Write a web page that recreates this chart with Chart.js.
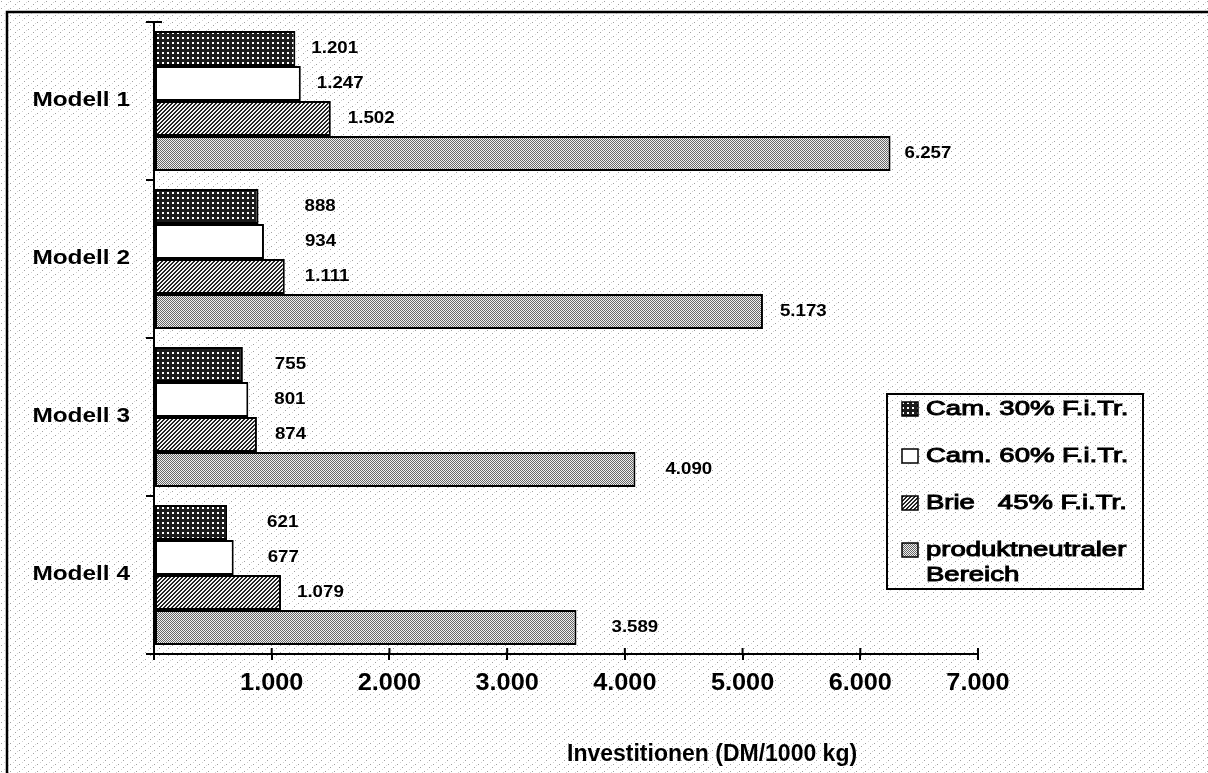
<!DOCTYPE html>
<html>
<head>
<meta charset="utf-8">
<script src="https://cdn.jsdelivr.net/npm/chart.js@4"></script>
<style>
html,body{margin:0;padding:0;background:#f8f8f8;}
#wrap{width:1208px;height:773px;position:relative;}
</style>
</head>
<body>
<div id="wrap"><canvas id="c" width="1208" height="773"></canvas></div>
<script>
// ---- data ----
const categories = ['Modell 1', 'Modell 2', 'Modell 3', 'Modell 4'];
const seriesNames = ['Cam. 30% F.i.Tr.', 'Cam. 60% F.i.Tr.', 'Brie   45% F.i.Tr.', 'produktneutraler\nBereich'];
const cam30 = [1201, 888, 755, 621];
const cam60 = [1247, 934, 801, 677];
const brie = [1502, 1111, 874, 1079];
const neutral = [6257, 5173, 4090, 3589];
const xMin = 0, xMax = 7000, xStep = 1000;
const axisTitle = 'Investitionen (DM/1000 kg)';

// ---- style ----
const FONT = '"Liberation Sans", Arial, sans-serif';
const SX = 1.22;                 // horizontal stretch of the scanned lettering
// gap (px) between each bar end and its value label, per model, per series (as placed in the original)
const labelGaps = [
  [16, 16, 17, 14],
  [46, 41, 20, 17],
  [32, 26, 18, 30],
  [40, 34, 16, 35]
];

function fmt(v) { return String(v).replace(/\B(?=(\d{3})+(?!\d))/g, '.'); }

function sText(ctx, text, x, y, font, sx, align, stroke) {
  ctx.save();
  ctx.font = font;
  ctx.textAlign = align;
  ctx.textBaseline = 'middle';
  ctx.translate(x, y);
  ctx.scale(sx, 1);
  ctx.fillStyle = '#000';
  ctx.fillText(text, 0, 0);
  if (stroke) { ctx.strokeStyle = '#000'; ctx.lineWidth = stroke; ctx.strokeText(text, 0, 0); }
  ctx.restore();
}

function makePattern(w, h, draw) {
  const c = document.createElement('canvas');
  c.width = w; c.height = h;
  const g = c.getContext('2d');
  draw(g);
  return g.createPattern(c, 'repeat');
}
const patGrid = makePattern(5, 5, g => {
  g.fillStyle = '#1c1c1c'; g.fillRect(0, 0, 5, 5);
  g.fillStyle = '#ffffff'; g.fillRect(2, 2, 2, 2);
});
const patWhite = '#ffffff';
const patDiag = makePattern(4, 4, g => {
  g.fillStyle = '#f4f4f4'; g.fillRect(0, 0, 4, 4);
  g.fillStyle = '#222';
  [[0,3],[1,2],[2,1],[3,0],[0,2],[1,1],[2,0],[3,3]].forEach(p => g.fillRect(p[0], p[1], 1, 1));
});
const patDots = makePattern(2, 2, g => {
  g.fillStyle = '#f0f0f0'; g.fillRect(0, 0, 2, 2);
  g.fillStyle = '#666'; g.fillRect(0, 0, 1, 1); g.fillRect(1, 1, 1, 1);
});
const patBg = makePattern(9, 7, g => {
  g.fillStyle = '#ffffff'; g.fillRect(0, 0, 9, 7);
  g.fillStyle = '#a0a0a0'; g.fillRect(1, 1, 1, 1); g.fillRect(6, 4, 1, 1);
  g.fillStyle = '#d4d4d4'; g.fillRect(4, 6, 1, 1); g.fillRect(8, 2, 1, 1);
});
const fills = [patGrid, patWhite, patDiag, patDots];
const seriesData = [cam30, cam60, brie, neutral];

const bgPlugin = {
  id: 'bg',
  beforeDraw(chart) {
    const ctx = chart.ctx;
    ctx.save();
    ctx.fillStyle = patBg;
    ctx.fillRect(0, 0, chart.width, chart.height);
    ctx.strokeStyle = '#000';
    ctx.lineWidth = 2.5;
    ctx.beginPath();
    ctx.moveTo(7, chart.height + 2);
    ctx.lineTo(7, 12);
    ctx.lineTo(chart.width + 2, 12);
    ctx.stroke();
    ctx.restore();
  }
};

const valuePlugin = {
  id: 'vals',
  afterDatasetsDraw(chart) {
    const ctx = chart.ctx;
    chart.data.datasets.forEach((ds, i) => {
      chart.getDatasetMeta(i).data.forEach((bar, j) => {
        sText(ctx, fmt(ds.data[j]), bar.x + labelGaps[j][i], bar.y, 'bold 17px ' + FONT, 1.1, 'left');
      });
    });
  }
};

const axisTextPlugin = {
  id: 'axisText',
  afterDraw(chart) {
    const ctx = chart.ctx, sx = chart.scales.x, sy = chart.scales.y;
    // x ticks crossing the axis line, and top tick of the category axis
    ctx.save();
    ctx.strokeStyle = '#000';
    ctx.lineWidth = 2;
    ctx.beginPath();
    sx.ticks.forEach(t => {
      const px = sx.getPixelForValue(t.value);
      ctx.moveTo(px, sx.top - 6);
      ctx.lineTo(px, sx.top);
    });
    ctx.moveTo(sy.right, sy.top);
    ctx.lineTo(sy.right + 8, sy.top);
    ctx.stroke();
    ctx.restore();
    // x tick labels
    sx.ticks.forEach(t => {
      if (t.value === 0) return;
      sText(ctx, fmt(t.value), sx.getPixelForValue(t.value), sx.top + 30, 'bold 23px ' + FONT, 1.1, 'center');
    });
    // category labels
    chart.data.labels.forEach((lab, i) => {
      sText(ctx, lab, sy.right - 24, sy.getPixelForTick(i) - 1, 'bold 20px ' + FONT, SX, 'right');
    });
    // axis title
    sText(ctx, axisTitle, 567, 755, 'bold 23px ' + FONT, 1.0, 'left');
  }
};

const legendPlugin = {
  id: 'boxLegend',
  afterDraw(chart) {
    const ctx = chart.ctx;
    const x0 = 887, y0 = 394, w = 256, h = 195;
    ctx.save();
    ctx.fillStyle = patBg;
    ctx.fillRect(x0, y0, w, h);
    ctx.strokeStyle = '#000';
    ctx.lineWidth = 2;
    ctx.strokeRect(x0, y0, w, h);
    chart.data.datasets.forEach((ds, i) => {
      const cy = 409 + i * 47;
      ctx.fillStyle = ds.backgroundColor;
      ctx.fillRect(902, cy - 7, 16, 14);
      ctx.strokeStyle = '#000';
      ctx.lineWidth = 1.5;
      ctx.strokeRect(902, cy - 7, 16, 14);
      ds.label.split('\n').forEach((line, k) =>
        sText(ctx, line, 926, cy + k * 25, '21px ' + FONT, 1.31, 'left', 1.0));
    });
    ctx.restore();
  }
};

new Chart(document.getElementById('c'), {
  type: 'bar',
  data: {
    labels: categories,
    datasets: seriesNames.map((name, i) => ({
      label: name,
      data: seriesData[i],
      backgroundColor: fills[i],
      borderColor: '#000',
      borderWidth: 2,
      borderSkipped: false,
      categoryPercentage: 0.886,
      barPercentage: 1.0
    }))
  },
  options: {
    indexAxis: 'y',
    responsive: false,
    devicePixelRatio: 1,
    animation: false,
    layout: { padding: { top: 22, right: 230, left: 0, bottom: 0 } },
    plugins: { legend: { display: false }, tooltip: { enabled: false } },
    scales: {
      x: {
        min: xMin, max: xMax,
        afterFit(s) { s.height = 119; s.paddingLeft = 0; s.paddingRight = 0; },
        grid: { drawOnChartArea: false, color: '#000', lineWidth: 2, tickLength: 6 },
        border: { color: '#000', width: 2 },
        ticks: { stepSize: xStep, display: false }
      },
      y: {
        afterFit(s) { s.width = 154; s.paddingTop = 0; s.paddingBottom = 0; },
        grid: { offset: true, drawOnChartArea: false, color: '#000', lineWidth: 2, tickLength: 8 },
        border: { color: '#000', width: 2 },
        ticks: { display: false }
      }
    }
  },
  plugins: [bgPlugin, valuePlugin, axisTextPlugin, legendPlugin]
});
</script>
</body>
</html>
